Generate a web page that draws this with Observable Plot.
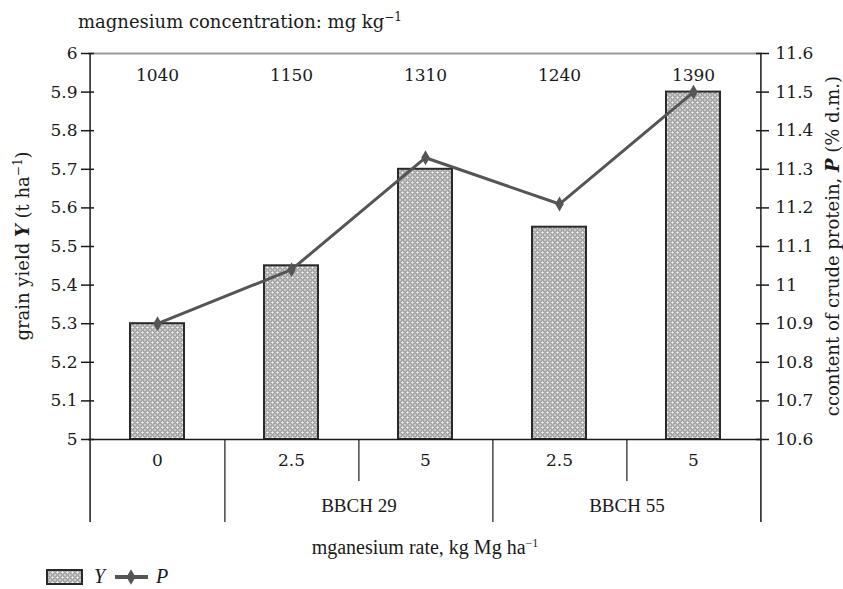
<!DOCTYPE html>
<html><head><meta charset="utf-8">
<script src="https://cdn.jsdelivr.net/npm/d3@7"></script>
<script src="https://cdn.jsdelivr.net/npm/@observablehq/plot@0.6"></script>
<style>body{margin:0;background:#fff} #chart{width:843px;height:589px}</style>
</head><body><div id="chart"></div>
<script>
const ids = ["c0","c1","c2","c3","c4"];
const rateLabels = ["0","2.5","5","2.5","5"];
const yieldY = [5.3,5.45,5.7,5.55,5.9];
const proteinP = [10.9,11.04,11.33,11.21,11.5];
const mgConc = [1040,1150,1310,1240,1390];
const stageLabels = ["BBCH 29","BBCH 55"];
const stageAt = ["c1","c3"];
const yTicks = [5,5.1,5.2,5.3,5.4,5.5,5.6,5.7,5.8,5.9,6];
const pTicks = [10.6,10.7,10.8,10.9,11,11.1,11.2,11.3,11.4,11.5,11.6];
const pOffset = pTicks[0] - yTicks[0];

const W=843,H=589,mL=88,mR=81,mT=53,mB=150;
const fw = W-mL-mR, fh = H-mT-mB;
const step = fw/ids.length;
const rows = ids.map((id,i)=>({id, rate: rateLabels[i], Y: yieldY[i], P: proteinP[i], mg: mgConc[i]}));
const fmt = v => String(Math.round(v*10)/10);
const serif = "DejaVu Serif, serif";
const narrow = "Liberation Serif, serif";
const ink = "#1a1a1a";

const svg = Plot.plot({
  width: W, height: H, marginLeft: mL, marginRight: mR, marginTop: mT, marginBottom: mB,
  style: {fontFamily: serif, fontSize: "17px", color: ink, background: "#fff"},
  x: {type: "band", domain: ids, paddingInner: 0.6, paddingOuter: 0.3, axis: null},
  y: {domain: [5, 6], axis: null},
  marks: [
    Plot.ruleY([6], {stroke: "#9a9a9a", strokeWidth: 2}),
    Plot.barY(rows, {x: "id", y1: 5, y2: "Y", fill: "url(#mesh)", stroke: "#2a2a2a", strokeWidth: 2}),
    Plot.ruleY([5], {stroke: ink, strokeWidth: 1.5}),
    Plot.tickY(yTicks, {y: d => d, insetLeft: -7, insetRight: fw - 6, stroke: ink, strokeWidth: 1.5}),
    Plot.tickY(yTicks, {y: d => d, insetLeft: fw - 6, insetRight: -7, stroke: ink, strokeWidth: 1.5}),
    Plot.text(yTicks, {y: d => d, text: fmt, frameAnchor: "left", textAnchor: "end", dx: -11}),
    Plot.text(yTicks, {y: d => d, text: d => fmt(d + pOffset), frameAnchor: "right", textAnchor: "start", dx: 13}),
    Plot.ruleX([ids[0]], {x: d => d, dx: -step/2, insetBottom: -83, stroke: ink, strokeWidth: 1.5}),
    Plot.ruleX([ids[ids.length-1]], {x: d => d, dx: step/2, insetBottom: -83, stroke: ink, strokeWidth: 1.5}),
    Plot.ruleX([ids[0], ids[2]], {x: d => d, dx: step/2, insetTop: fh, insetBottom: -83, stroke: ink, strokeWidth: 1.2}),
    Plot.ruleX([ids[1], ids[3]], {x: d => d, dx: step/2, insetTop: fh, insetBottom: -42, stroke: ink, strokeWidth: 1.2}),
    Plot.line(rows, {x: "id", y: d => d.P - pOffset, stroke: "#555", strokeWidth: 3}),
    Plot.dot(rows, {x: "id", y: d => d.P - pOffset, symbol: "diamond", r: 4.5, fill: "#555", stroke: "none"}),
    Plot.text(rows, {x: "id", text: d => String(d.mg), frameAnchor: "top", lineAnchor: "middle", dy: 22}),
    Plot.text(rows, {x: "id", text: "rate", frameAnchor: "bottom", lineAnchor: "middle", dy: 21}),
    Plot.text(stageLabels, {x: (d, i) => stageAt[i], text: d => d, dx: step/2, frameAnchor: "bottom", lineAnchor: "middle", dy: 66, fontFamily: narrow, fontSize: 19})
  ]
});
document.getElementById("chart").appendChild(svg);

const s = d3.select(svg);
const defs = s.insert("defs", ":first-child");
const pat = defs.append("pattern").attr("id", "mesh").attr("width", 5).attr("height", 5).attr("patternUnits", "userSpaceOnUse");
pat.append("rect").attr("width", 5).attr("height", 5).attr("fill", "#a9a9a9");
pat.append("path").attr("d", "M0,0L5,5M5,0L0,5").attr("stroke", "#707070").attr("stroke-width", 0.8);
pat.append("circle").attr("cx", 2.5).attr("cy", 2.5).attr("r", 1.3).attr("fill", "#f0f0f0");
[[0,0],[5,0],[0,5],[5,5]].forEach(([cx,cy]) => pat.append("circle").attr("cx", cx).attr("cy", cy).attr("r", 1.0).attr("fill", "#e6e6e6"));

const g = s.append("g").attr("fill", ink).attr("text-anchor", "start").style("font-family", serif).style("font-size", "18px");
function sup(t, txt) { t.append("tspan").attr("dy", -7).style("font-size", "12px").text(txt); }

// top title
const tt = g.append("text").attr("x", 78).attr("y", 28).attr("text-anchor", "start");
tt.append("tspan").text("magnesium concentration: mg kg");
sup(tt, "\u22121");

// left title
const lt = g.append("text").attr("transform", `translate(29,${mT + fh/2}) rotate(-90)`).attr("text-anchor", "middle");
lt.append("tspan").text("grain yield ");
lt.append("tspan").style("font-style", "italic").style("font-weight", "bold").text("Y");
lt.append("tspan").text(" (t ha");
sup(lt, "\u22121");
lt.append("tspan").attr("dy", 7).text(")");

// right title
const rt = g.append("text").attr("transform", `translate(839,${mT + fh/2}) rotate(-90)`).attr("text-anchor", "middle");
rt.append("tspan").text("ccontent of crude protein, ");
rt.append("tspan").style("font-style", "italic").style("font-weight", "bold").text("P");
rt.append("tspan").text(" (% d.m.)");

// x title
const xt = g.append("text").attr("x", mL + fw/2).attr("y", 554).attr("text-anchor", "middle").style("font-family", narrow).style("font-size", "20px");
xt.append("tspan").text("mganesium rate, kg Mg ha");
sup(xt, "\u22121");

// legend
const lg = s.append("g");
lg.append("rect").attr("x", 47).attr("y", 570).attr("width", 35).attr("height", 14).attr("fill", "url(#mesh)").attr("stroke", "#2a2a2a").attr("stroke-width", 2);
lg.append("text").attr("x", 94).attr("y", 583).attr("text-anchor", "start").style("font-family", narrow).style("font-size", "20px").style("font-style", "italic").attr("fill", ink).text("Y");
lg.append("line").attr("x1", 115).attr("x2", 148).attr("y1", 577).attr("y2", 577).attr("stroke", "#555").attr("stroke-width", 4);
lg.append("path").attr("d", d3.symbol(d3.symbolDiamond, 70)()).attr("transform", "translate(131,577)").attr("fill", "#555");
lg.append("text").attr("x", 156).attr("y", 583).attr("text-anchor", "start").style("font-family", narrow).style("font-size", "20px").style("font-style", "italic").attr("fill", ink).text("P");
</script></body></html>
